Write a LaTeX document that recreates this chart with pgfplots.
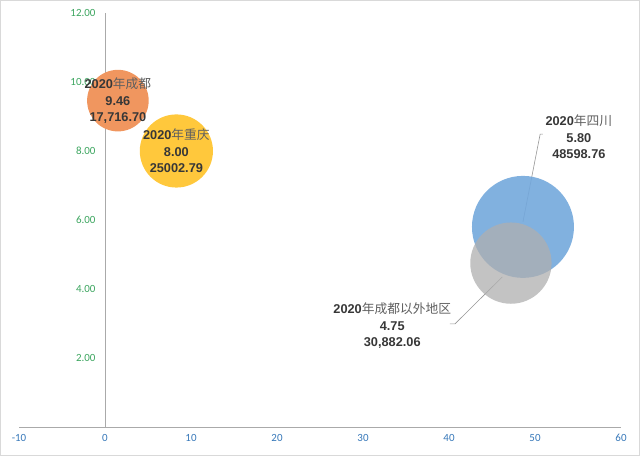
\documentclass[border=0pt]{standalone}
\usepackage{pgfplots}
\pgfplotsset{compat=1.18}
\usepackage{pgfplotstable}
\usepackage{fontspec}
\setmainfont{Carlito}
\newfontfamily\cjk{Noto Sans CJK SC}
\newfontfamily\numf{Liberation Sans}
\definecolor{framegray}{RGB}{217,217,217}
\definecolor{axisgray}{RGB}{170,170,170}
\definecolor{ytickgreen}{RGB}{60,165,95}
\definecolor{xtickblue}{RGB}{55,120,185}
\definecolor{cdorange}{RGB}{240,150,95}
\definecolor{cqyellow}{RGB}{255,200,60}
\definecolor{scblue}{RGB}{115,168,220}
\definecolor{otgray}{RGB}{175,175,175}
\definecolor{numdark}{RGB}{55,55,55}
\definecolor{cjkgray}{RGB}{95,95,95}
\definecolor{leadgray}{RGB}{150,150,150}

\pgfplotstableread{
x y s
1.5 9.46 17716.70
}\chengdu
\pgfplotstableread{
x y s
8.3 8.00 25002.79
}\chongqing
\pgfplotstableread{
x y s
48.6 5.80 48598.76
}\sichuan
\pgfplotstableread{
x y s
47.2 4.75 30882.06
}\others

\newcommand{\yr}{{\numf\bfseries\color{numdark}2020}}
\newcommand{\nb}[1]{{\numf\bfseries\color{numdark}#1}}
\newcommand{\cj}[1]{{\cjk\color{cjkgray}#1}}

\begin{document}
\begin{tikzpicture}[x=1bp,y=1bp]
\useasboundingbox (0,0) rectangle (640,456);
\draw[draw=framegray, line width=1bp] (0.5,0.5) rectangle (639.5,455.5);
\begin{axis}[
  at={(19bp,29bp)}, anchor=south west,
  scale only axis, width=602bp, height=414bp,
  xmin=-10, xmax=60, ymin=0, ymax=12,
  axis lines=middle,
  axis line style={-, draw=axisgray, line width=0.8bp},
  xtick={-10,0,10,20,30,40,50,60},
  ytick={2,4,6,8,10,12},
  major tick length=0pt,
  hide obscured x ticks=false,
  hide obscured y ticks=false,
  clip=false,
  x tick label style={font=\fontsize{11}{12}\selectfont, text=xtickblue, yshift=-4bp},
  y tick label style={font=\fontsize{11}{12}\selectfont, text=ytickgreen, xshift=-6bp,
    /pgf/number format/.cd, fixed, fixed zerofill, precision=2},
  x tick label style={/pgf/number format/assume math mode=true},
  y tick label style={/pgf/number format/assume math mode=true},
  bubble/.style={scatter, only marks, mark=*,
    scatter/use mapped color={draw=#1, fill=#1, draw opacity=0},
    mark options={draw opacity=0},
    visualization depends on={sqrt(\thisrow{s})*0.2313 \as \rad},
    scatter/@pre marker code/.append style={/tikz/mark size=\rad bp, /tikz/draw opacity=0}},
]
% leader lines
\draw[leadgray, line width=0.6bp] (axis cs:50.9,8.49) -- (axis cs:50.6,8.49) -- (axis cs:48.6,5.95);
\draw[leadgray, line width=0.6bp] (axis cs:40.1,2.99) -- (axis cs:40.7,2.99) -- (axis cs:46.2,4.35);

\addplot[bubble=cdorange] table[x=x,y=y] {\chengdu};
\addplot[bubble=cqyellow] table[x=x,y=y] {\chongqing};
\addplot[bubble=scblue, fill opacity=0.9] table[x=x,y=y] {\sichuan};
\addplot[bubble=otgray, fill opacity=0.75] table[x=x,y=y] {\others};

\coordinate (lcd) at (axis cs:1.5,9.46);
\coordinate (lcq) at (axis cs:8.3,8.00);
\coordinate (lsc) at (axis cs:55.1,8.41);
\coordinate (lot) at (axis cs:33.4,2.93);
\end{axis}
\tikzset{lab/.style={align=center, inner sep=0pt, font=\fontsize{12.8}{16.5}\selectfont}}
\node[lab] at (lcd) {\yr\cj{年成都}\\ \nb{9.46}\\ \nb{17,716.70}};
\node[lab] at (lcq) {\yr\cj{年重庆}\\ \nb{8.00}\\ \nb{25002.79}};
\node[lab] at (lsc) {\yr\cj{年四川}\\ \nb{5.80}\\ \nb{48598.76}};
\node[lab] at (lot) {\yr\cj{年成都以外地区}\\ \nb{4.75}\\ \nb{30,882.06}};
\end{tikzpicture}
\end{document}
